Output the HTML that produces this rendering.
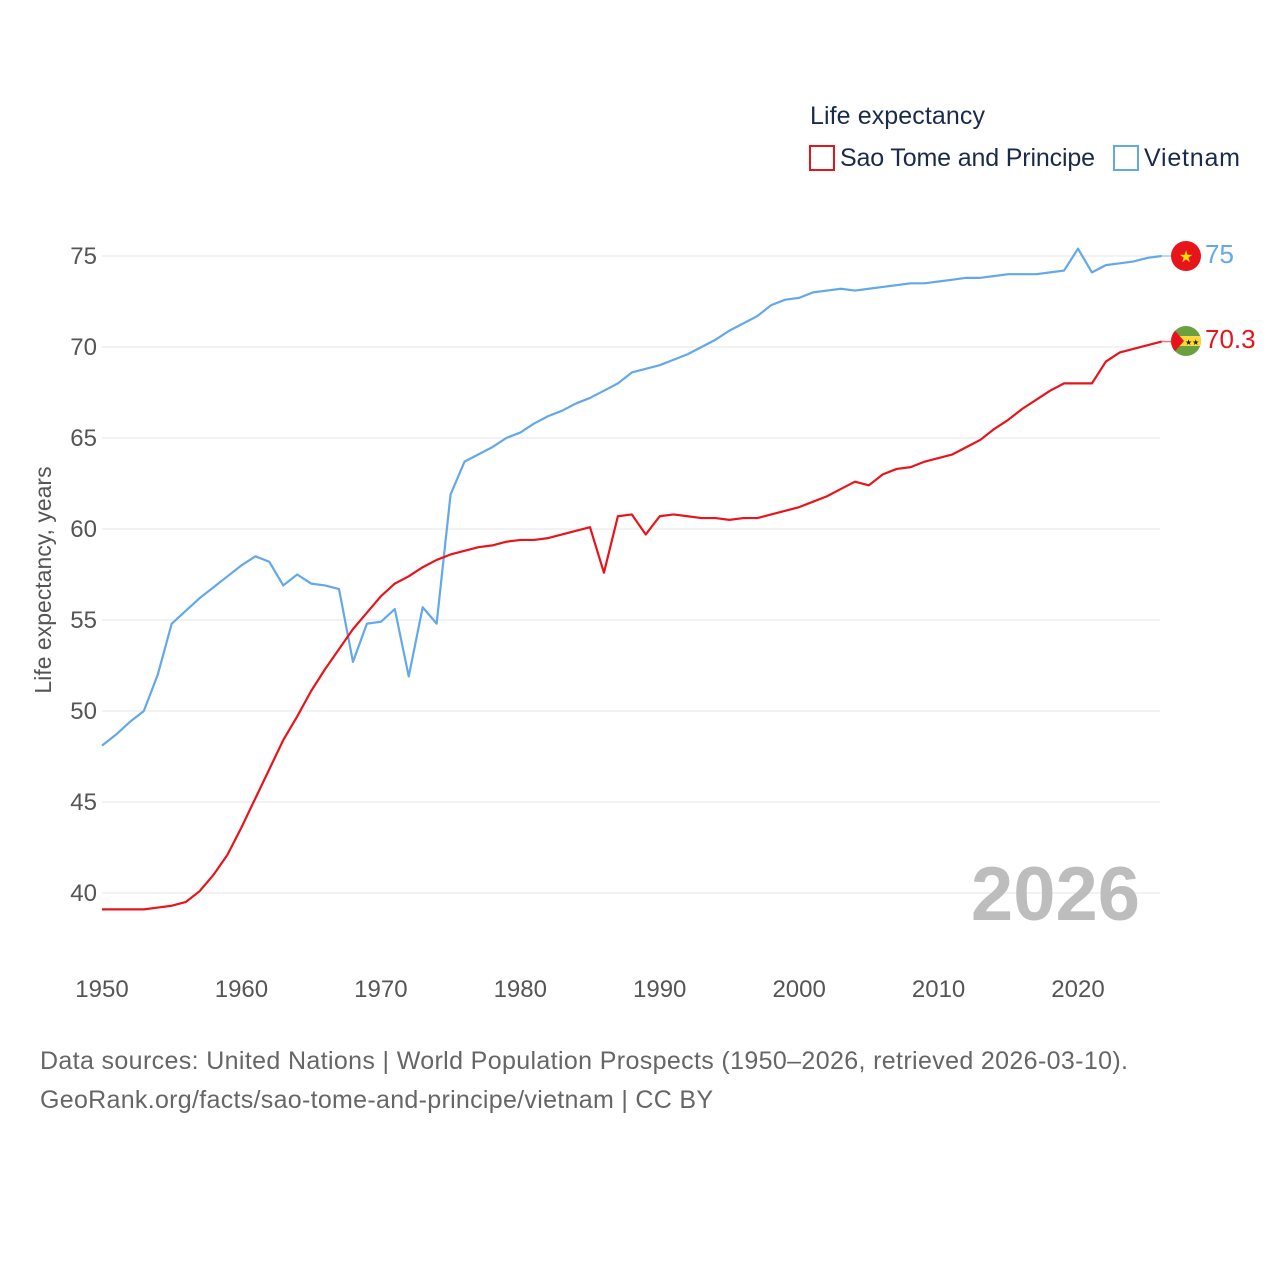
<!DOCTYPE html>
<html><head><meta charset="utf-8"><style>
body{margin:0;background:#fff;font-family:"Liberation Sans",sans-serif}
svg text{font-family:"Liberation Sans",sans-serif}
</style></head><body>
<svg id="c" width="1280" height="1280">
<text x="810" y="124" font-size="25" fill="#1a2b4a" textLength="175">Life expectancy</text>
<g><rect x="810" y="146" width="24" height="24" fill="none" stroke="#e8141c" stroke-width="2"/><text x="840" y="166" font-size="25" fill="#1a2b4a" textLength="255">Sao Tome and Principe</text></g>
<g><rect x="1114" y="146" width="24" height="24" fill="none" stroke="#63a8e8" stroke-width="2"/><text x="1144" y="166" font-size="25" fill="#1a2b4a" textLength="96">Vietnam</text></g>
<g id="grid"></g><g id="yt"></g><g id="xt"></g>
<text transform="translate(51,580) rotate(-90)" text-anchor="middle" font-size="23" fill="#555">Life expectancy, years</text>
<text x="1140" y="920" text-anchor="end" font-size="76" font-weight="bold" fill="#bdbdbd">2026</text>
<g id="lines"></g>
<g><circle cx="1186" cy="256" r="15" fill="#e8141c"/><text x="1186" y="262" text-anchor="middle" font-size="16" fill="#ffe000">★</text></g>
<g><clipPath id="fc"><circle cx="1186" cy="341" r="15"/></clipPath><g clip-path="url(#fc)"><rect x="1170" y="325" width="32" height="32" fill="#6aa040"/><rect x="1170" y="336" width="32" height="10" fill="#ffd83a"/><polygon points="1170,325 1184,341 1170,357" fill="#e8141c"/><text x="1185" y="345" font-size="8" fill="#222">★★</text></g></g>
<text x="1205" y="263" font-size="26" fill="#63a8e8">75</text>
<text x="1205" y="348" font-size="26" fill="#e8141c">70.3</text>
<text x="40" y="1069" font-size="25" fill="#666" textLength="1088">Data sources: United Nations | World Population Prospects (1950–2026, retrieved 2026-03-10).</text>
<text x="40" y="1108" font-size="25" fill="#666" textLength="673">GeoRank.org/facts/sao-tome-and-principe/vietnam | CC BY</text>
</svg>
<script>
const startYear=1950;
const xTicks=[1950,1960,1970,1980,1990,2000,2010,2020];
const yTicks=[40,45,50,55,60,65,70,75];
const vietnam=[48.1,48.7,49.4,50.0,52.0,54.8,55.5,56.2,56.8,57.4,58.0,58.5,58.2,56.9,57.5,57.0,56.9,56.7,52.7,54.8,54.9,55.6,51.9,55.7,54.8,61.9,63.7,64.1,64.5,65.0,65.3,65.8,66.2,66.5,66.9,67.2,67.6,68.0,68.6,68.8,69.0,69.3,69.6,70.0,70.4,70.9,71.3,71.7,72.3,72.6,72.7,73.0,73.1,73.2,73.1,73.2,73.3,73.4,73.5,73.5,73.6,73.7,73.8,73.8,73.9,74.0,74.0,74.0,74.1,74.2,75.4,74.1,74.5,74.6,74.7,74.9,75.0];
const stp=[39.1,39.1,39.1,39.1,39.2,39.3,39.5,40.1,41.0,42.1,43.6,45.2,46.8,48.4,49.7,51.1,52.3,53.4,54.5,55.4,56.3,57.0,57.4,57.9,58.3,58.6,58.8,59.0,59.1,59.3,59.4,59.4,59.5,59.7,59.9,60.1,57.6,60.7,60.8,59.7,60.7,60.8,60.7,60.6,60.6,60.5,60.6,60.6,60.8,61.0,61.2,61.5,61.8,62.2,62.6,62.4,63.0,63.3,63.4,63.7,63.9,64.1,64.5,64.9,65.5,66.0,66.6,67.1,67.6,68.0,68.0,68.0,69.2,69.7,69.9,70.1,70.3];
const X=y=>102+(y-1950)*976/70;
const Y=v=>256+(75-v)*637/35;
const NS='http://www.w3.org/2000/svg';
function mk(t,a,p){const e=document.createElementNS(NS,t);for(const k in a)e.setAttribute(k,a[k]);document.getElementById(p).appendChild(e);return e;}
yTicks.forEach(v=>{
 const l=mk('line',{x1:102,x2:1160,y1:Y(v),y2:Y(v),stroke:'#e6e6e6','stroke-width':1},'grid');
 
 
 const t=mk('text',{x:97,y:Y(v)+8,'text-anchor':'end','font-size':24,fill:'#555'},'yt');
 t.textContent=v;
 
 
});
xTicks.forEach(v=>{
 const t=mk('text',{x:X(v),y:997,'text-anchor':'middle','font-size':24,fill:'#555'},'xt');
 t.textContent=v;
 
 
});
function line(d,c,n){
 const p=mk('polyline',{points:d.map((v,i)=>X(startYear+i)+','+Y(v)).join(' '),fill:'none',stroke:c,'stroke-width':2.2,'stroke-linejoin':'round'},'lines');
 
 
 const last=d[d.length-1];
 const s=mk('line',{x1:X(startYear+d.length-1),x2:1172,y1:Y(last),y2:Y(last),stroke:c,'stroke-width':1.5,opacity:0.6},'lines');
 
 
}
line(vietnam,'#63a8e8','vietnam-line');
line(stp,'#e8141c','stp-line');
</script>
</body></html>
